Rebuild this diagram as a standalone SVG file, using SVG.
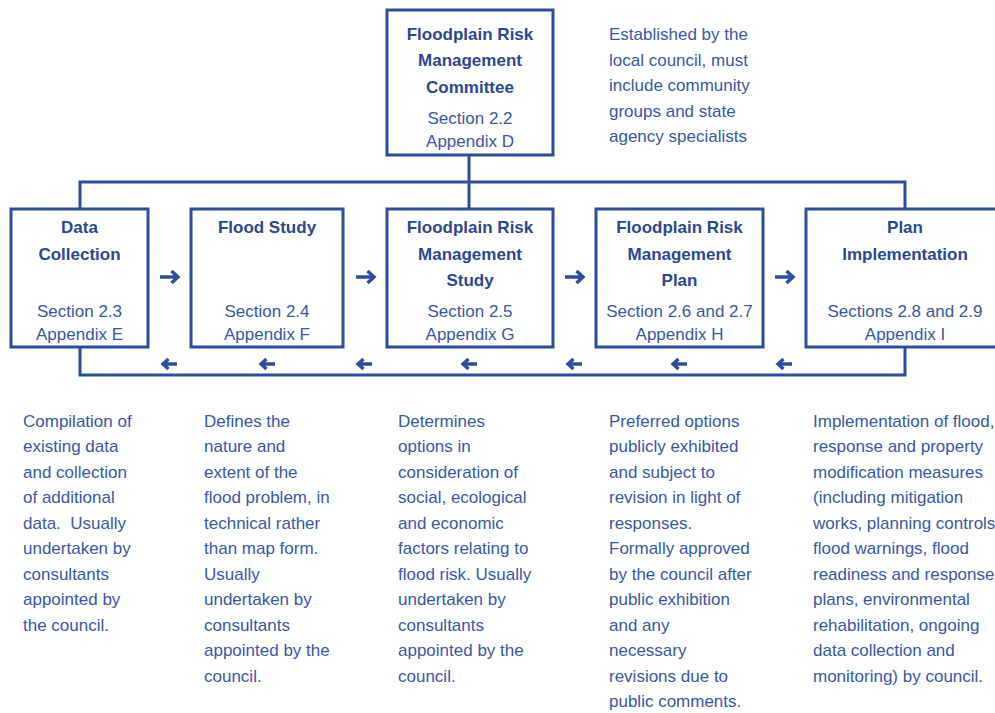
<svg xmlns="http://www.w3.org/2000/svg" width="995" height="713" viewBox="0 0 995 713">
<style>
.box{fill:#fff;stroke:#2E4D9E;stroke-width:3}
.line{fill:none;stroke:#2E4D9E;stroke-width:3}
.arr{fill:none;stroke:#2E4D9E;stroke-width:3.5;stroke-linecap:butt;stroke-linejoin:miter}
.arl{fill:none;stroke:#2E4D9E;stroke-width:3.4;stroke-linejoin:miter}
text{font-family:"Liberation Sans",Arial,sans-serif;font-size:17px;fill:#3A58A6}
.b{font-weight:bold;fill:#2D4892;text-anchor:middle}
.c{text-anchor:middle}
</style>
<rect width="995" height="713" fill="#fff"/>
<g id="connectors">
<path class="line" d="M469,155 V209"/>
<path class="line" d="M80,209 V182 H905 V209"/>
<path class="line" d="M80,347 V375 H905 V347"/>
<g id="right-arrows">
<path class="arr" d="M160,277 H177 M171.5,271 L178,277 L171.5,283"/>
<path class="arr" d="M356,277 H373 M367.5,271 L374,277 L367.5,283"/>
<path class="arr" d="M565,277 H582 M576.5,271 L583,277 L576.5,283"/>
<path class="arr" d="M775,277 H792 M786.5,271 L793,277 L786.5,283"/>
</g>
<g id="left-arrows">
<path class="arl" d="M177,364 H163 M168.5,359 L163,364 L168.5,369"/>
<path class="arl" d="M275,364 H261 M266.5,359 L261,364 L266.5,369"/>
<path class="arl" d="M372,364 H358 M363.5,359 L358,364 L363.5,369"/>
<path class="arl" d="M477,364 H463 M468.5,359 L463,364 L468.5,369"/>
<path class="arl" d="M582,364 H568 M573.5,359 L568,364 L573.5,369"/>
<path class="arl" d="M687,364 H673 M678.5,359 L673,364 L678.5,369"/>
<path class="arl" d="M792,364 H778 M783.5,359 L778,364 L783.5,369"/>
</g>
</g>
<g id="committee">
<rect class="box" x="387" y="10" width="166" height="145"/>
<text class="b" x="470" y="39.5">Floodplain Risk</text>
<text class="b" x="470" y="66">Management</text>
<text class="b" x="470" y="92.5">Committee</text>
<text class="c" x="470" y="124">Section 2.2</text>
<text class="c" x="470" y="147">Appendix D</text>
</g>
<g id="committee-note">
<text x="609" y="40">Established by the</text>
<text x="609" y="65.5">local council, must</text>
<text x="609" y="91">include community</text>
<text x="609" y="116.5">groups and state</text>
<text x="609" y="142">agency specialists</text>
</g>
<g id="data-collection">
<rect class="box" x="11" y="209" width="137" height="138"/>
<text class="b" x="79.5" y="233">Data</text>
<text class="b" x="79.5" y="259.5">Collection</text>
<text class="c" x="79.5" y="317">Section 2.3</text>
<text class="c" x="79.5" y="340">Appendix E</text>
</g>
<g id="flood-study">
<rect class="box" x="191" y="209" width="152" height="138"/>
<text class="b" x="267" y="233">Flood Study</text>
<text class="c" x="267" y="317">Section 2.4</text>
<text class="c" x="267" y="340">Appendix F</text>
</g>
<g id="frm-study">
<rect class="box" x="387" y="209" width="166" height="138"/>
<text class="b" x="470" y="233">Floodplain Risk</text>
<text class="b" x="470" y="259.5">Management</text>
<text class="b" x="470" y="286">Study</text>
<text class="c" x="470" y="317">Section 2.5</text>
<text class="c" x="470" y="340">Appendix G</text>
</g>
<g id="frm-plan">
<rect class="box" x="596" y="209" width="167" height="138"/>
<text class="b" x="679.5" y="233">Floodplain Risk</text>
<text class="b" x="679.5" y="259.5">Management</text>
<text class="b" x="679.5" y="286">Plan</text>
<text class="c" x="679.5" y="317">Section 2.6 and 2.7</text>
<text class="c" x="679.5" y="340">Appendix H</text>
</g>
<g id="plan-implementation">
<rect class="box" x="806" y="209" width="200" height="138"/>
<text class="b" x="905" y="233">Plan</text>
<text class="b" x="905" y="259.5">Implementation</text>
<text class="c" x="905" y="317">Sections 2.8 and 2.9</text>
<text class="c" x="905" y="340">Appendix I</text>
</g>
<g id="notes">
<text x="23" y="426.5">Compilation of</text>
<text x="23" y="452">existing data</text>
<text x="23" y="477.5">and collection</text>
<text x="23" y="503">of additional</text>
<text x="23" y="528.5" xml:space="preserve">data.  Usually</text>
<text x="23" y="554">undertaken by</text>
<text x="23" y="579.5">consultants</text>
<text x="23" y="605">appointed by</text>
<text x="23" y="630.5">the council.</text>

<text x="204" y="426.5">Defines the</text>
<text x="204" y="452">nature and</text>
<text x="204" y="477.5">extent of the</text>
<text x="204" y="503">flood problem, in</text>
<text x="204" y="528.5">technical rather</text>
<text x="204" y="554">than map form.</text>
<text x="204" y="579.5">Usually</text>
<text x="204" y="605">undertaken by</text>
<text x="204" y="630.5">consultants</text>
<text x="204" y="656">appointed by the</text>
<text x="204" y="681.5">council.</text>

<text x="398" y="426.5">Determines</text>
<text x="398" y="452">options in</text>
<text x="398" y="477.5">consideration of</text>
<text x="398" y="503">social, ecological</text>
<text x="398" y="528.5">and economic</text>
<text x="398" y="554">factors relating to</text>
<text x="398" y="579.5">flood risk. Usually</text>
<text x="398" y="605">undertaken by</text>
<text x="398" y="630.5">consultants</text>
<text x="398" y="656">appointed by the</text>
<text x="398" y="681.5">council.</text>

<text x="609" y="426.5">Preferred options</text>
<text x="609" y="452">publicly exhibited</text>
<text x="609" y="477.5">and subject to</text>
<text x="609" y="503">revision in light of</text>
<text x="609" y="528.5">responses.</text>
<text x="609" y="554">Formally approved</text>
<text x="609" y="579.5">by the council after</text>
<text x="609" y="605">public exhibition</text>
<text x="609" y="630.5">and any</text>
<text x="609" y="656">necessary</text>
<text x="609" y="681.5">revisions due to</text>
<text x="609" y="707">public comments.</text>

<text x="813" y="426.5">Implementation of flood,</text>
<text x="813" y="452">response and property</text>
<text x="813" y="477.5">modification measures</text>
<text x="813" y="503">(including mitigation</text>
<text x="813" y="528.5">works, planning controls</text>
<text x="813" y="554">flood warnings, flood</text>
<text x="813" y="579.5">readiness and response</text>
<text x="813" y="605">plans, environmental</text>
<text x="813" y="630.5">rehabilitation, ongoing</text>
<text x="813" y="656">data collection and</text>
<text x="813" y="681.5">monitoring) by council.</text>
</g>
</svg>
